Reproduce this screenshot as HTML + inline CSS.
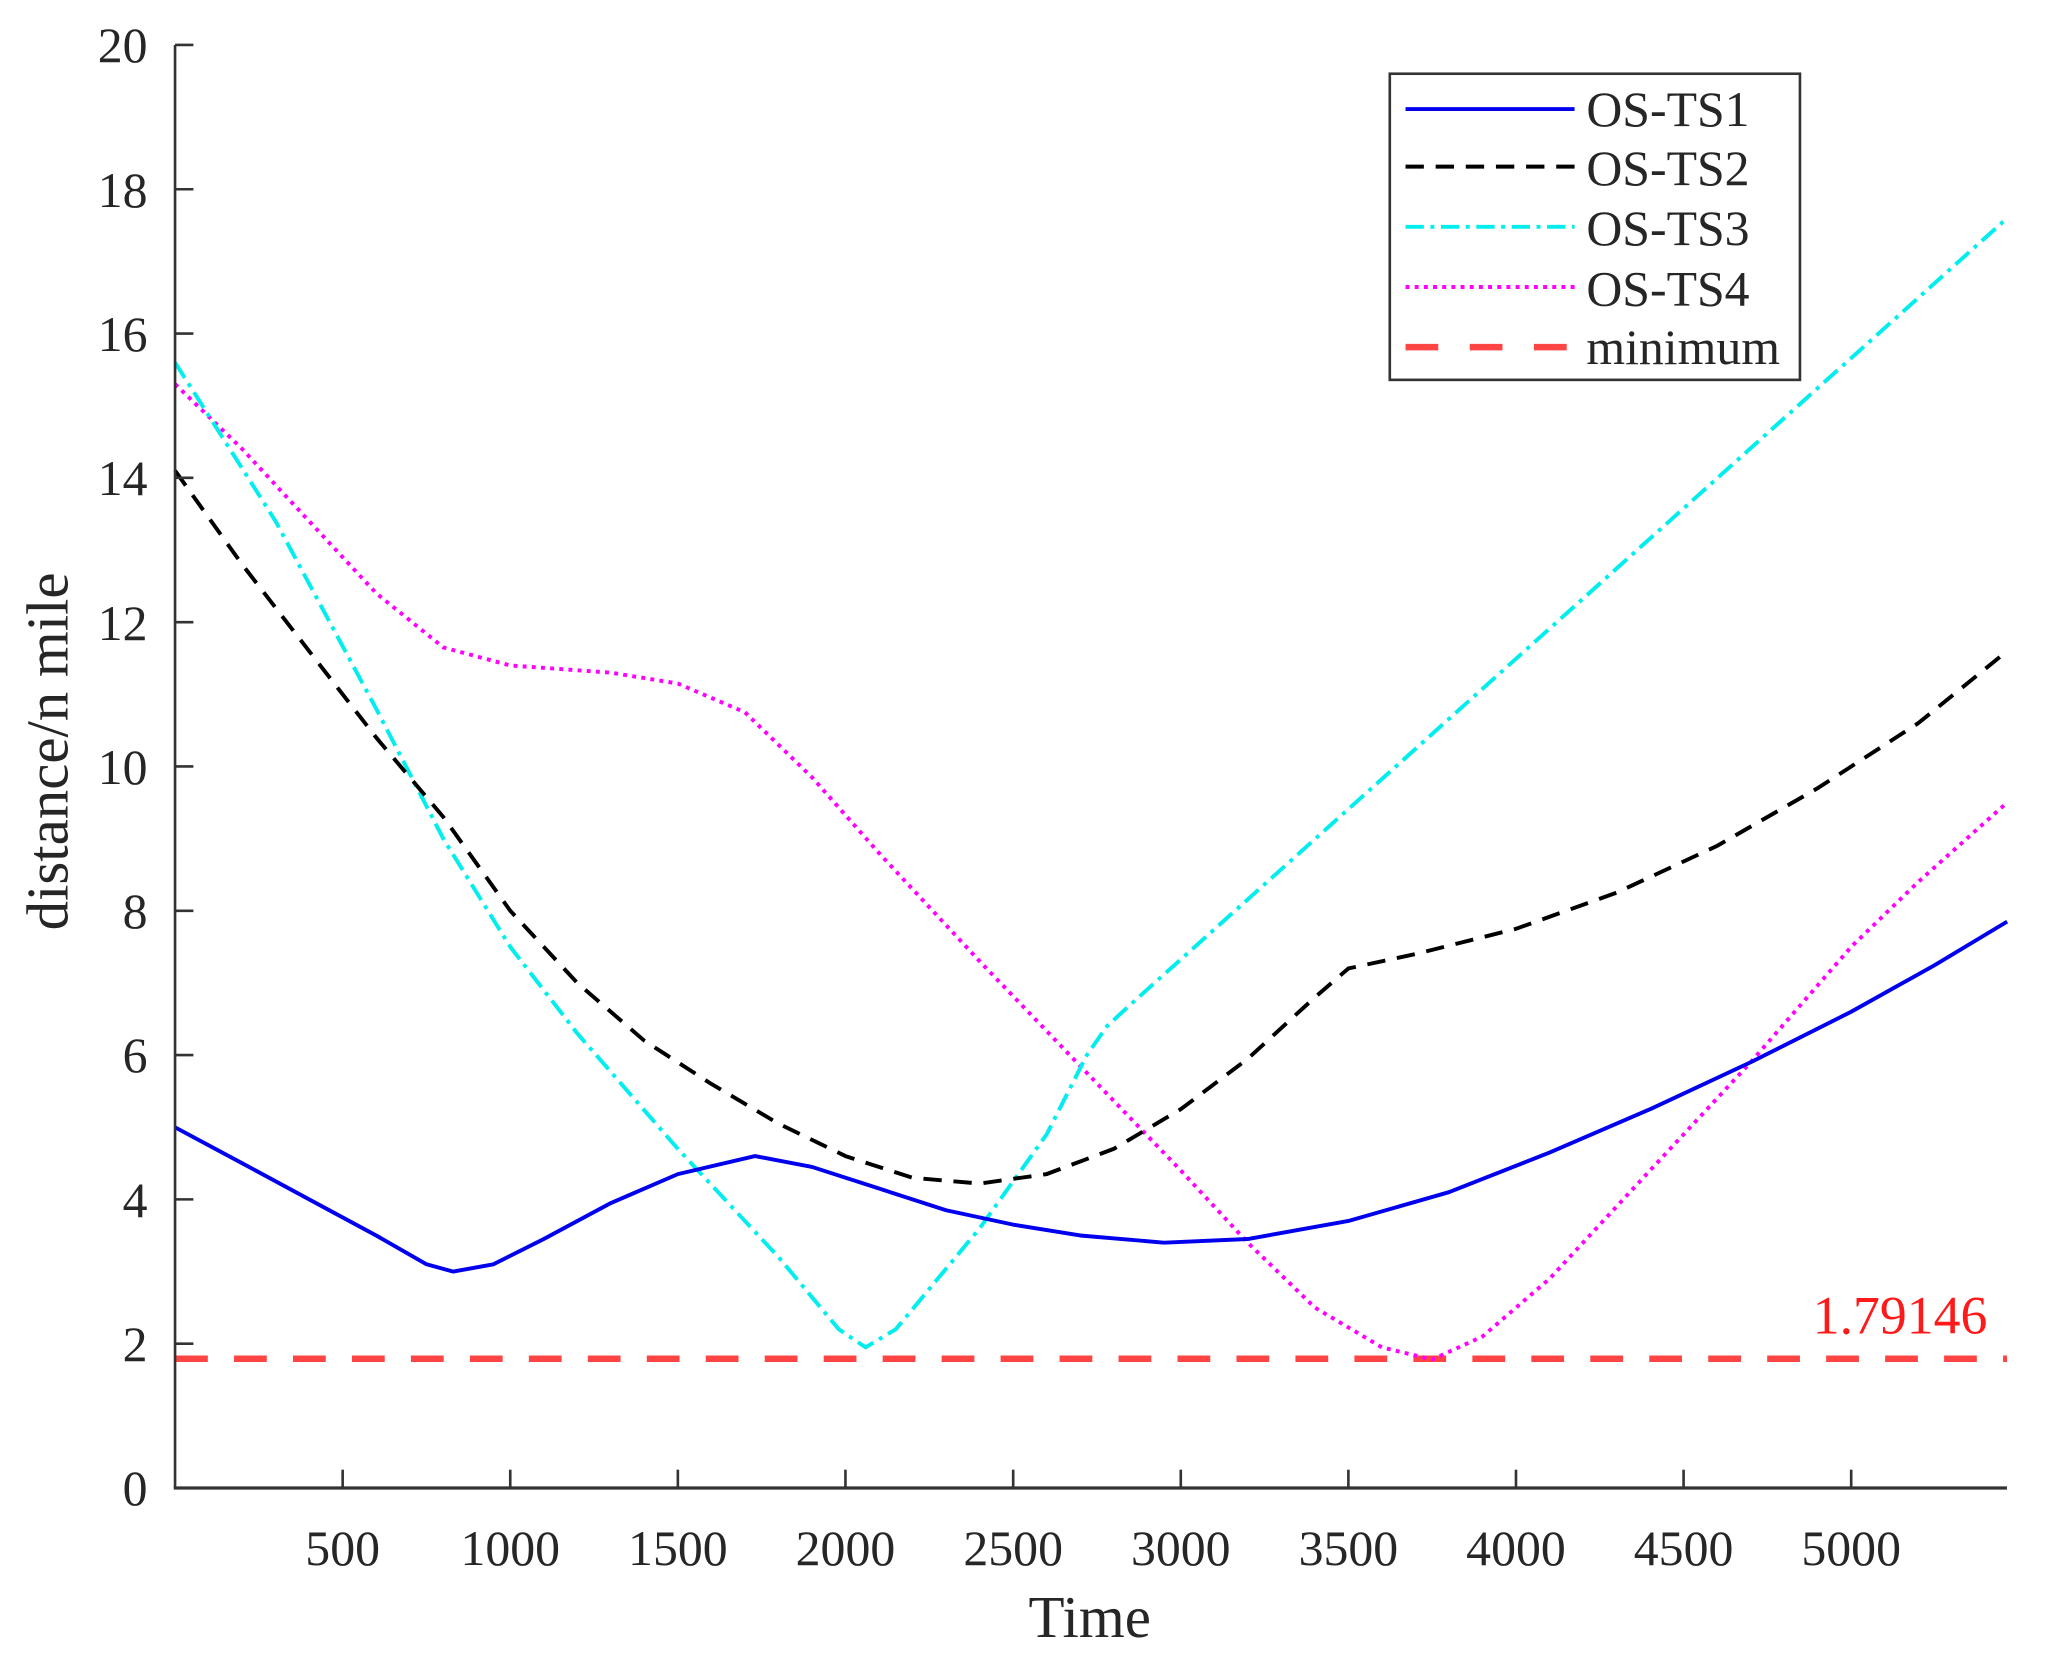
<!DOCTYPE html>
<html><head><meta charset="utf-8"><style>
html,body{margin:0;padding:0;background:#fff;}
svg{display:block;}
text{font-family:"Liberation Serif",serif;fill:#262626;}
</style></head><body>
<svg width="2052" height="1662" viewBox="0 0 1552 1257" xmlns="http://www.w3.org/2000/svg">
<rect width="1552" height="1257" fill="#fff"/>
<g transform="matrix(0.9911 0 0 0.9895 -1.4 -0.65)">
<g fill="none" stroke-linejoin="round">
<line x1="135" y1="1039.2" x2="1533" y2="1039.2" stroke="#ff4444" stroke-width="5" stroke-dasharray="25,20"/>
<polyline stroke="#ff00ff" stroke-width="3" stroke-dasharray="3,4" points="135,294.2 186.2,343.8 237.3,399.0 288.5,454.1 339.7,495.5 390.8,509.3 467.6,514.8 518.7,523.1 569.9,545.1 621.1,594.8 672.2,652.7 749.0,735.4 825.7,815.4 902.5,895.3 953.6,950.5 1004.8,1000.1 1056.0,1030.5 1094.3,1039.8 1132.7,1022.2 1183.9,978.1 1260.6,895.3 1337.4,812.6 1414.1,724.4 1465.3,674.7 1533.1,614.1"/>
<polyline stroke="#00eeee" stroke-width="3" stroke-dasharray="14,5,3,5" points="135,277.7 211.7,399.0 288.5,542.4 339.7,641.7 390.8,724.4 442.0,790.6 518.7,878.8 595.5,961.5 641.5,1016.7 662.0,1030.5 685.0,1016.7 749.0,939.5 800.1,867.8 830.8,807.1 846.2,785.0 864.1,768.5 1533.1,167.4"/>
<polyline stroke="#000" stroke-width="3" stroke-dasharray="14,9" points="135,360.4 186.2,432.1 237.3,498.3 288.5,564.4 339.7,625.1 390.8,696.8 442.0,752.0 493.1,796.1 544.3,829.2 595.5,859.5 646.6,884.3 697.8,900.9 749.0,905.3 800.1,898.1 851.3,878.8 902.5,848.5 953.6,809.9 1004.8,763.0 1030.4,740.9 1081.5,729.9 1158.3,710.6 1235.0,683.0 1311.8,647.2 1388.5,603.1 1465.3,553.4 1533.1,498.3"/>
<polyline stroke="#0000ee" stroke-width="3" points="135,862.3 186.2,889.8 237.3,917.4 288.5,945.0 326.9,967.0 347.3,972.6 378.0,967.0 416.4,947.7 467.6,920.2 518.7,898.1 577.6,884.3 621.1,892.6 672.2,909.1 723.4,925.7 774.6,936.7 825.7,945.0 889.7,950.5 953.6,947.7 1030.4,933.9 1107.1,911.9 1183.9,881.6 1260.6,848.5 1337.4,812.6 1414.1,774.0 1478.1,738.2 1533.1,705.1"/>
</g>
<line x1="135" y1="35" x2="135" y2="1138" stroke="#333" stroke-width="2"/>
<line x1="134" y1="1138" x2="1533" y2="1138" stroke="#333" stroke-width="2.5"/>
<g stroke="#333" stroke-width="2">
<line x1="135" y1="1027.7" x2="149" y2="1027.7"/><line x1="135" y1="917.4" x2="149" y2="917.4"/><line x1="135" y1="807.1" x2="149" y2="807.1"/><line x1="135" y1="696.8" x2="149" y2="696.8"/><line x1="135" y1="586.5" x2="149" y2="586.5"/><line x1="135" y1="476.2" x2="149" y2="476.2"/><line x1="135" y1="365.9" x2="149" y2="365.9"/><line x1="135" y1="255.6" x2="149" y2="255.6"/><line x1="135" y1="145.3" x2="149" y2="145.3"/><line x1="135" y1="35" x2="149" y2="35"/>
<line x1="262.9" y1="1138" x2="262.9" y2="1124"/><line x1="390.8" y1="1138" x2="390.8" y2="1124"/><line x1="518.7" y1="1138" x2="518.7" y2="1124"/><line x1="646.6" y1="1138" x2="646.6" y2="1124"/><line x1="774.6" y1="1138" x2="774.6" y2="1124"/><line x1="902.5" y1="1138" x2="902.5" y2="1124"/><line x1="1030.4" y1="1138" x2="1030.4" y2="1124"/><line x1="1158.3" y1="1138" x2="1158.3" y2="1124"/><line x1="1286.2" y1="1138" x2="1286.2" y2="1124"/><line x1="1414.1" y1="1138" x2="1414.1" y2="1124"/>
</g>
<g font-size="38" text-anchor="end">
<text x="114" y="1151">0</text><text x="114" y="1041">2</text><text x="114" y="931">4</text><text x="114" y="820">6</text><text x="114" y="710">8</text><text x="114" y="600">10</text><text x="114" y="490">12</text><text x="114" y="379">14</text><text x="114" y="269">16</text><text x="114" y="159">18</text><text x="114" y="48">20</text>
</g>
<g font-size="38" text-anchor="middle">
<text x="262.9" y="1197">500</text><text x="390.8" y="1197">1000</text><text x="518.7" y="1197">1500</text><text x="646.6" y="1197">2000</text><text x="774.6" y="1197">2500</text><text x="902.5" y="1197">3000</text><text x="1030.4" y="1197">3500</text><text x="1158.3" y="1197">4000</text><text x="1286.2" y="1197">4500</text><text x="1414.1" y="1197">5000</text>
</g>
<text x="833" y="1252" font-size="45" text-anchor="middle">Time</text>
<text transform="translate(53,575) rotate(-90)" font-size="45" text-anchor="middle">distance/n mile</text>
<text x="1518" y="1020" font-size="41" text-anchor="end" style="fill:#ff1a1a">1.79146</text>
<rect x="1062" y="57" width="313" height="234" fill="#fff" stroke="#333" stroke-width="2"/>
<line x1="1074" y1="84" x2="1203" y2="84" stroke="#0000ee" stroke-width="3"/>
<line x1="1074" y1="128" x2="1203" y2="128" stroke="#000" stroke-width="3" stroke-dasharray="14,9"/>
<line x1="1074" y1="174" x2="1203" y2="174" stroke="#00eeee" stroke-width="3" stroke-dasharray="14,5,3,5"/>
<line x1="1074" y1="220" x2="1203" y2="220" stroke="#ff00ff" stroke-width="3" stroke-dasharray="3,4"/>
<line x1="1074" y1="266" x2="1203" y2="266" stroke="#ff4444" stroke-width="5" stroke-dasharray="25,24"/>
<g font-size="38">
<text x="1212" y="97">OS-TS1</text>
<text x="1212" y="142">OS-TS2</text>
<text x="1212" y="188">OS-TS3</text>
<text x="1212" y="234">OS-TS4</text>
<text x="1212" y="279">minimum</text>
</g>
</g>
</svg>
</body></html>
